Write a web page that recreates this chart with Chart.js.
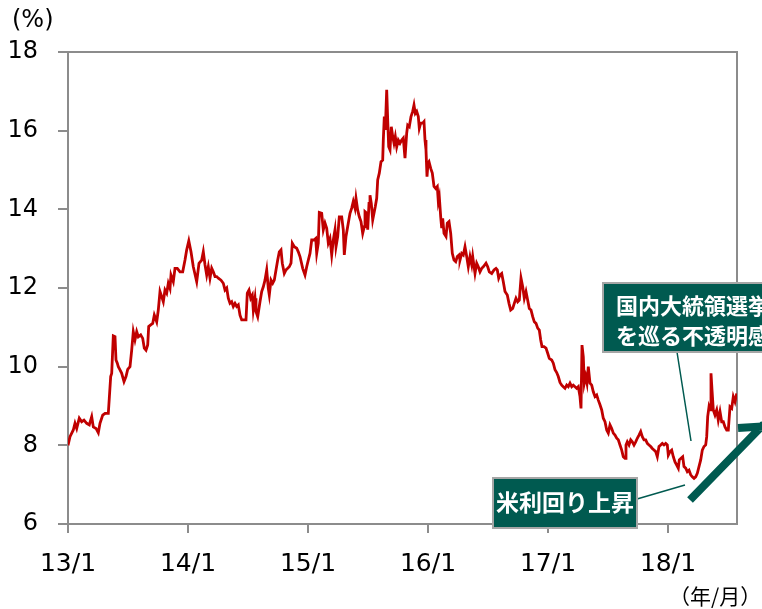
<!DOCTYPE html>
<html>
<head>
<meta charset="utf-8">
<script src="https://cdn.jsdelivr.net/npm/chart.js@4/dist/chart.umd.min.js"></script>
<style>
  html, body { margin: 0; padding: 0; background: #fff; }
  #chart { display: block; }
</style>
</head>
<body>
<canvas id="chart" width="762" height="609"></canvas>
<script>
// months since 2013/1 and yield (%)
const months = [
  0, 0.20, 0.53, 0.70, 0.87, 1.13, 1.37, 1.60, 1.87, 2.13, 2.37, 2.53, 2.80, 3.03, 3.20, 3.47, 3.70, 4.03, 4.13, 4.27,
  4.37, 4.53, 4.70, 4.80, 4.93, 5.03, 5.20, 5.37, 5.60, 5.80, 5.97, 6.20, 6.37, 6.53, 6.70, 6.87, 7.03, 7.27, 7.47, 7.63,
  7.80, 7.97, 8.07, 8.27, 8.47, 8.63, 8.87, 9.03, 9.20, 9.37, 9.53, 9.70, 9.87, 10.03, 10.20, 10.30, 10.53, 10.70, 10.93, 11.20,
  11.47, 11.70, 11.87, 12.08, 12.30, 12.53, 12.87, 13.10, 13.37, 13.53, 13.70, 13.87, 14.03, 14.20, 14.37, 14.53, 14.70, 14.87, 15.03, 15.30,
  15.53, 15.70, 15.87, 16.03, 16.20, 16.37, 16.53, 16.70, 16.87, 17.03, 17.20, 17.37, 17.63, 17.80, 17.93, 18.10, 18.27, 18.43, 18.53, 18.70,
  18.80, 18.97, 19.20, 19.37, 19.53, 19.70, 19.87, 20.03, 20.13, 20.30, 20.47, 20.63, 20.80, 20.97, 21.13, 21.30, 21.43, 21.63, 21.80, 21.97,
  22.13, 22.30, 22.43, 22.63, 22.87, 23.03, 23.20, 23.47, 23.70, 23.87, 24.03, 24.20, 24.37, 24.60, 24.77, 24.87, 25.03, 25.13, 25.37, 25.53,
  25.70, 25.87, 26.03, 26.20, 26.37, 26.53, 26.70, 26.80, 26.97, 27.13, 27.37, 27.53, 27.63, 27.80, 28.03, 28.20, 28.37, 28.53, 28.70, 28.80,
  28.97, 29.13, 29.30, 29.47, 29.63, 29.70, 29.87, 29.97, 30.10, 30.20, 30.33, 30.47, 30.60, 30.73, 30.87, 30.97, 31.13, 31.30, 31.47, 31.53,
  31.63, 31.73, 31.87, 31.97, 32.07, 32.20, 32.33, 32.47, 32.60, 32.73, 32.87, 33.03, 33.20, 33.37, 33.53, 33.70, 33.87, 33.97, 34.13, 34.30,
  34.47, 34.60, 34.73, 34.87, 35.03, 35.13, 35.27, 35.47, 35.60, 35.70, 35.80, 35.90, 36.00, 36.10, 36.27, 36.43, 36.60, 36.77, 36.93, 37.03,
  37.13, 37.27, 37.37, 37.47, 37.60, 37.80, 37.93, 38.10, 38.27, 38.43, 38.60, 38.77, 38.93, 39.10, 39.20, 39.37, 39.53, 39.70, 39.87, 40.03,
  40.20, 40.37, 40.47, 40.70, 40.87, 41.03, 41.20, 41.37, 41.53, 41.80, 41.97, 42.13, 42.37, 42.60, 42.80, 42.93, 43.07, 43.20, 43.37, 43.53,
  43.70, 43.93, 44.10, 44.27, 44.47, 44.63, 44.80, 44.97, 45.13, 45.30, 45.47, 45.63, 45.80, 45.97, 46.13, 46.30, 46.47, 46.63, 46.80, 46.97,
  47.13, 47.27, 47.40, 47.60, 47.80, 47.97, 48.13, 48.37, 48.53, 48.70, 48.87, 49.03, 49.20, 49.37, 49.53, 49.70, 49.87, 50.03, 50.20, 50.37,
  50.53, 50.70, 50.87, 51.03, 51.20, 51.30, 51.40, 51.53, 51.63, 51.77, 51.90, 52.03, 52.20, 52.37, 52.53, 52.70, 52.87, 53.03, 53.20, 53.37,
  53.53, 53.70, 53.87, 54.03, 54.20, 54.37, 54.53, 54.70, 54.87, 55.03, 55.20, 55.37, 55.53, 55.70, 55.80, 55.93, 56.10, 56.27, 56.43, 56.60,
  56.77, 56.93, 57.10, 57.27, 57.43, 57.60, 57.77, 57.93, 58.10, 58.27, 58.43, 58.60, 58.77, 58.93, 59.10, 59.27, 59.43, 59.60, 59.77, 59.93,
  60.03, 60.20, 60.37, 60.53, 60.70, 60.87, 61.03, 61.13, 61.30, 61.47, 61.60, 61.77, 61.93, 62.10, 62.27, 62.43, 62.60, 62.77, 62.93, 63.10,
  63.27, 63.43, 63.60, 63.77, 63.87, 63.97, 64.10, 64.20, 64.30, 64.40, 64.53, 64.70, 64.87, 65.03, 65.20, 65.37, 65.53, 65.70, 65.87, 66.03,
  66.20, 66.37, 66.53, 66.70, 66.87
];
const yields = [
  8.00, 8.22, 8.39, 8.56, 8.43, 8.69, 8.60, 8.64, 8.56, 8.52, 8.73, 8.47, 8.43, 8.32, 8.56, 8.77, 8.81, 8.81, 9.20, 9.75,
  9.83, 10.78, 10.76, 10.17, 10.09, 10.00, 9.92, 9.83, 9.62, 9.75, 9.93, 10.00, 10.42, 10.89, 10.68, 10.89, 10.76, 10.81, 10.72, 10.47,
  10.42, 10.55, 11.02, 11.06, 11.10, 11.31, 11.14, 11.44, 11.91, 11.78, 11.65, 11.95, 11.87, 12.12, 11.99, 12.33, 12.16, 12.50, 12.50, 12.41,
  12.41, 12.71, 12.97, 13.20, 12.92, 12.54, 12.16, 12.63, 12.71, 12.92, 12.59, 12.33, 12.54, 12.25, 12.50, 12.41, 12.29, 12.29, 12.25, 12.20,
  12.12, 11.95, 12.00, 11.74, 11.61, 11.65, 11.53, 11.61, 11.53, 11.57, 11.31, 11.19, 11.19, 11.19, 11.87, 11.95, 11.74, 11.82, 11.44, 11.74,
  11.40, 11.27, 11.65, 11.91, 12.03, 12.20, 12.46, 11.99, 11.82, 12.20, 12.12, 12.20, 12.46, 12.71, 12.92, 12.97, 12.63, 12.37, 12.46, 12.50,
  12.54, 12.63, 13.14, 13.05, 13.01, 12.92, 12.80, 12.50, 12.33, 12.54, 12.71, 12.88, 13.22, 13.22, 13.26, 12.88, 13.14, 13.92, 13.90, 13.48,
  13.65, 13.52, 13.14, 13.26, 12.84, 13.22, 13.48, 13.05, 13.31, 13.81, 13.81, 13.48, 12.84, 13.31, 13.65, 13.90, 14.03, 14.20, 14.03, 14.28,
  13.98, 13.81, 13.69, 13.39, 13.56, 13.94, 13.90, 13.48, 14.15, 14.36, 14.15, 13.73, 13.90, 14.07, 14.28, 14.75, 14.92, 15.21, 15.25, 15.76,
  16.36, 16.02, 17.04, 16.27, 15.59, 15.51, 16.10, 15.85, 15.68, 15.85, 15.59, 15.76, 15.68, 15.76, 15.81, 15.30, 15.94, 16.14, 16.10, 16.36,
  16.49, 16.65, 16.44, 16.49, 16.36, 16.06, 16.19, 16.19, 16.23, 15.76, 15.51, 14.83, 15.17, 15.21, 15.04, 14.92, 14.58, 14.53, 14.58, 14.20,
  14.32, 13.81, 13.52, 13.77, 13.39, 13.31, 13.65, 13.69, 13.39, 12.88, 12.71, 12.67, 12.80, 12.84, 12.71, 12.88, 12.84, 13.05, 12.80, 12.54,
  12.80, 12.59, 12.80, 12.37, 12.63, 12.54, 12.41, 12.50, 12.54, 12.63, 12.54, 12.41, 12.37, 12.46, 12.50, 12.46, 12.25, 12.33, 12.37, 12.16,
  11.91, 11.82, 11.61, 11.44, 11.48, 11.61, 11.74, 11.65, 11.69, 12.25, 12.03, 11.74, 11.91, 11.69, 11.48, 11.44, 11.27, 11.14, 11.10, 10.98,
  10.93, 10.68, 10.51, 10.51, 10.47, 10.34, 10.21, 10.17, 10.09, 9.92, 9.85, 9.75, 9.60, 9.53, 9.49, 9.45, 9.53, 9.49, 9.58, 9.49,
  9.53, 9.49, 9.45, 9.49, 9.24, 8.94, 10.55, 10.25, 9.58, 9.75, 9.58, 10.00, 9.58, 9.53, 9.36, 9.24, 9.28, 9.15, 9.03, 8.90,
  8.69, 8.60, 8.39, 8.31, 8.52, 8.43, 8.31, 8.26, 8.18, 8.14, 8.01, 7.88, 7.71, 7.67, 8.01, 8.09, 8.01, 8.14, 8.09, 8.01,
  8.09, 8.18, 8.26, 8.35, 8.22, 8.14, 8.14, 8.05, 8.01, 7.97, 7.92, 7.88, 7.84, 7.71, 7.97, 8.01, 8.05, 8.01, 8.05, 8.01,
  7.75, 7.84, 7.88, 7.71, 7.58, 7.50, 7.42, 7.63, 7.67, 7.71, 7.46, 7.42, 7.33, 7.37, 7.25, 7.20, 7.16, 7.20, 7.29, 7.46,
  7.63, 7.88, 7.97, 8.01, 8.22, 8.73, 8.98, 8.90, 9.83, 9.41, 8.90, 8.77, 8.90, 8.64, 8.86, 8.60, 8.60, 8.47, 8.39, 8.39,
  8.98, 8.94, 9.24, 9.11, 9.32
];
const tickMonths = [0, 12, 24, 36, 48, 60];
const tickLabels = ['13/1', '14/1', '15/1', '16/1', '17/1', '18/1'];

const AXIS = '#8c8c8c';
const TEAL = '#005a50';
const FONT = "'DejaVu Sans', Verdana, sans-serif";
const JP = "'Noto Sans CJK JP', sans-serif";

// frame on top and right of plot area
const framePlugin = {
  id: 'frame',
  beforeDatasetsDraw(chart) {
    const a = chart.chartArea, ctx = chart.ctx;
    ctx.save();
    ctx.strokeStyle = AXIS;
    ctx.lineWidth = 2;
    ctx.beginPath();
    ctx.moveTo(a.left, a.top);
    ctx.lineTo(a.right, a.top);
    ctx.lineTo(a.right, a.bottom);
    ctx.stroke();
    ctx.restore();
  }
};

function box(ctx, x, y, w, h) {
  ctx.fillStyle = TEAL;
  ctx.fillRect(x, y, w, h);
  ctx.strokeStyle = '#a6a6a6';
  ctx.lineWidth = 2;
  ctx.strokeRect(x, y, w, h);
}

const notesPlugin = {
  id: 'notes',
  afterDraw(chart) {
    const ctx = chart.ctx;
    ctx.save();
    // unit labels
    ctx.fillStyle = '#000';
    ctx.font = '24px ' + FONT;
    ctx.textAlign = 'left';
    ctx.textBaseline = 'alphabetic';
    ctx.fillText('(%)', 12, 27);
    ctx.font = '21px ' + JP;
    ctx.textBaseline = 'middle';
    ctx.fillText('（年/月）', 669, 596);

    // leader lines
    ctx.strokeStyle = TEAL;
    ctx.lineWidth = 1.5;
    ctx.beginPath();
    ctx.moveTo(677, 352); ctx.lineTo(691, 441);
    ctx.moveTo(637, 499); ctx.lineTo(685, 485);
    ctx.stroke();

    // big arrow
    ctx.lineWidth = 8;
    ctx.lineCap = 'butt';
    ctx.beginPath();
    ctx.moveTo(690, 500); ctx.lineTo(764, 424);
    ctx.moveTo(738, 428); ctx.lineTo(768, 426); ctx.lineTo(766, 456);
    ctx.stroke();

    // boxes
    box(ctx, 603, 283, 180, 69);
    box(ctx, 493, 478, 144, 50);
    ctx.fillStyle = '#fff';
    ctx.font = 'bold 22px ' + JP;
    ctx.textAlign = 'center';
    ctx.textBaseline = 'middle';
    ctx.fillText('国内大統領選挙', 693, 306);
    ctx.fillText('を巡る不透明感', 693, 336);
    ctx.font = 'bold 23px ' + JP;
    ctx.fillText('米利回り上昇', 565, 502);
    ctx.restore();
  }
};

new Chart(document.getElementById('chart'), {
  type: 'line',
  data: {
    datasets: [{
      data: months.map((m, i) => ({ x: m, y: yields[i] })),
      borderColor: '#c00000',
      borderWidth: 2.8,
      pointRadius: 0,
      tension: 0
    }]
  },
  options: {
    responsive: false,
    animation: false,
    layout: { padding: { left: 0, top: 52, right: 25, bottom: 0 } },
    plugins: { legend: { display: false }, tooltip: { enabled: false } },
    scales: {
      x: {
        type: 'linear',
        min: 0,
        max: 66.9,
        afterBuildTicks(axis) { axis.ticks = tickMonths.map(v => ({ value: v })); },
        afterFit(axis) { axis.height = 85; },
        ticks: {
          callback: v => tickLabels[tickMonths.indexOf(v)],
          font: { family: FONT, size: 25 },
          color: '#000',
          maxRotation: 0,
          autoSkip: false,
          padding: 16
        },
        grid: { drawOnChartArea: false, tickLength: 9, color: AXIS, lineWidth: 2 },
        border: { color: AXIS, width: 2 }
      },
      y: {
        min: 6,
        max: 18,
        afterFit(axis) { axis.width = 68; },
        ticks: {
          stepSize: 2,
          font: { family: FONT, size: 24 },
          color: '#000',
          padding: 20
        },
        grid: { drawOnChartArea: false, tickLength: 10, color: AXIS, lineWidth: 2 },
        border: { color: AXIS, width: 2 }
      }
    }
  },
  plugins: [framePlugin, notesPlugin]
});
</script>
</body>
</html>
